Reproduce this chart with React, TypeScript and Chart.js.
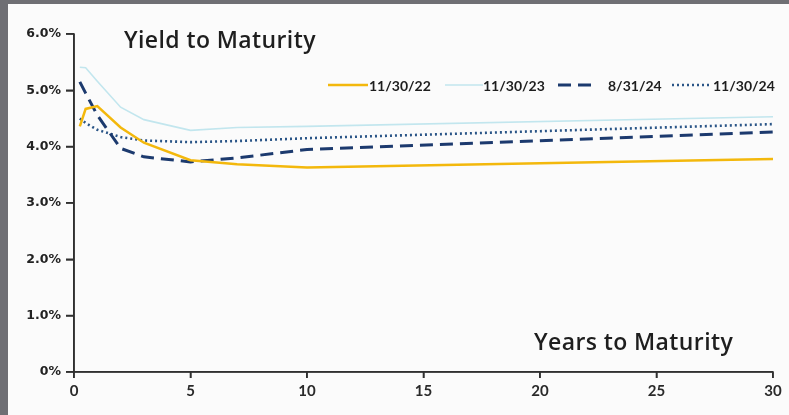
import React, { useEffect, useRef } from "react";
import { Chart, registerables } from "chart.js";

Chart.register(...registerables);

const maturities = [0.25, 0.5, 1, 2, 3, 5, 7, 10, 30];
const seriesLabels = ["11/30/22", "11/30/23", "8/31/24", "11/30/24"];
const yield221130 = [4.36, 4.67, 4.72, 4.34, 4.07, 3.76, 3.69, 3.63, 3.78];
const yield231130 = [5.41, 5.40, 5.16, 4.70, 4.48, 4.29, 4.34, 4.36, 4.53];
const yield240831 = [5.15, 4.95, 4.56, 3.97, 3.82, 3.73, 3.80, 3.95, 4.26];
const yield241130 = [4.50, 4.42, 4.30, 4.17, 4.11, 4.08, 4.10, 4.15, 4.40];
const yTickLabels = ["0%", "1.0%", "2.0%", "3.0%", "4.0%", "5.0%", "6.0%"];
const xTickLabels = ["0", "5", "10", "15", "20", "25", "30"];
const chartTitle = "Yield to Maturity";
const xAxisTitle = "Years to Maturity";

const styles = [
  { color: "#F3B80C", width: 2.5, dash: [] as number[] },
  { color: "#C2E6EE", width: 1.6, dash: [] as number[] },
  { color: "#1C3A6E", width: 3, dash: [13, 7] },
  { color: "#2A5587", width: 2.6, dash: [2, 3] },
];

const legendPos = [
  { x0: 328, x1: 368, tx: 369 },
  { x0: 445, x1: 483, tx: 483 },
  { x0: 558, x1: 596, tx: 608 },
  { x0: 672, x1: 712, tx: 713 },
];

const allSeries = [yield221130, yield231130, yield240831, yield241130];

const axisColor = "#303030";

const decorPlugin = {
  id: "decor",
  beforeDraw(chart: any) {
    const ctx = chart.ctx;
    ctx.save();
    ctx.fillStyle = "#6f6f74";
    ctx.fillRect(0, 0, chart.width, chart.height);
    ctx.fillStyle = "#fbfbfb";
    ctx.fillRect(8, 4, chart.width - 8, chart.height - 4);
    ctx.restore();
  },
  afterDraw(chart: any) {
    const ctx = chart.ctx;
    const xs = chart.scales.x;
    const ys = chart.scales.y;
    const left = xs.getPixelForValue(0);
    const right = xs.getPixelForValue(30);
    const bottom = ys.getPixelForValue(0);
    const top = ys.getPixelForValue(6);
    ctx.save();
    ctx.strokeStyle = axisColor;
    ctx.lineWidth = 1.6;
    ctx.setLineDash([]);
    ctx.beginPath();
    ctx.moveTo(left, top);
    ctx.lineTo(left, bottom);
    ctx.lineTo(right, bottom);
    ys.ticks.forEach((t: any) => {
      const py = ys.getPixelForValue(t.value);
      ctx.moveTo(left - 8, py);
      ctx.lineTo(left, py);
    });
    xs.ticks.forEach((t: any) => {
      const px = xs.getPixelForValue(t.value);
      ctx.moveTo(px, bottom);
      ctx.lineTo(px, bottom + 6);
    });
    ctx.stroke();
    ctx.restore();

    ctx.save();
    ctx.fillStyle = "#1e1e1e";
    ctx.textBaseline = "alphabetic";
    ctx.textAlign = "left";
    ctx.font = "600 23px 'Open Sans'";
    (ctx as any).letterSpacing = "0.4px";
    ctx.fillText(chartTitle, 124, 48);
    ctx.fillText(xAxisTitle, 534, 350);
    (ctx as any).letterSpacing = "0px";
    const ly = 85;
    ctx.font = "bold 14px Lato";
    ctx.textBaseline = "middle";
    seriesLabels.forEach((lab, i) => {
      const p = legendPos[i];
      const s = styles[i];
      ctx.save();
      ctx.strokeStyle = s.color;
      ctx.lineWidth = s.width;
      ctx.setLineDash(s.dash);
      ctx.beginPath();
      ctx.moveTo(p.x0, ly);
      ctx.lineTo(p.x1, ly);
      ctx.stroke();
      ctx.restore();
      ctx.fillStyle = "#1e1e1e";
      ctx.fillText(lab, p.tx, ly + 1);
    });
    ctx.restore();
  },
};

export default function App() {
  const ref = useRef<HTMLCanvasElement>(null);
  useEffect(() => {
    if (!ref.current) return;
    const chart = new Chart(ref.current, {
      type: "line",
      data: {
        datasets: seriesLabels.map((lab, i) => ({
          label: lab,
          data: maturities.map((m, j) => ({ x: m, y: allSeries[i][j] })),
          borderColor: styles[i].color,
          borderWidth: styles[i].width,
          borderDash: styles[i].dash,
          pointRadius: 0,
          tension: 0,
          fill: false,
        })),
      },
      options: {
        animation: false,
        responsive: false,
        devicePixelRatio: 1,
        layout: { padding: { left: 0, right: 16, top: 34, bottom: 0 } },
        plugins: { legend: { display: false }, tooltip: { enabled: false }, title: { display: false } },
        scales: {
          x: {
            type: "linear",
            min: 0,
            max: 30,
            afterFit: (s: any) => { s.height = 43; },
            ticks: {
              stepSize: 5,
              padding: 4,
              color: "#2a2a2a",
              font: { family: "Lato", size: 15, weight: "bold" },
              maxRotation: 0,
              callback: (_v: any, i: number) => xTickLabels[i],
            },
            grid: { display: true, drawOnChartArea: false, drawTicks: true, tickLength: 6, color: axisColor, tickColor: axisColor, tickWidth: 1.6, lineWidth: 1.6 },
            border: { display: true, color: axisColor, width: 1.6 },
          },
          y: {
            min: 0,
            max: 6,
            afterFit: (s: any) => { s.width = 74; },
            ticks: {
              stepSize: 1,
              padding: 5,
              color: "#222",
              font: { family: "DejaVu Sans", size: 12.5, weight: "bold" },
              callback: (_v: any, i: number) => yTickLabels[i],
            },
            grid: { display: true, drawOnChartArea: false, drawTicks: true, tickLength: 8, color: axisColor, tickColor: axisColor, tickWidth: 1.6, lineWidth: 1.6 },
            border: { display: true, color: axisColor, width: 1.6 },
          },
        },
      },
      plugins: [decorPlugin],
    });
    return () => chart.destroy();
  }, []);
  return (
    <div style={{ position: "fixed", left: 0, top: 0, width: 789, height: 415 }}>
      <canvas ref={ref} width={789} height={415} style={{ width: 789, height: 415, display: "block" }} />
    </div>
  );
}
